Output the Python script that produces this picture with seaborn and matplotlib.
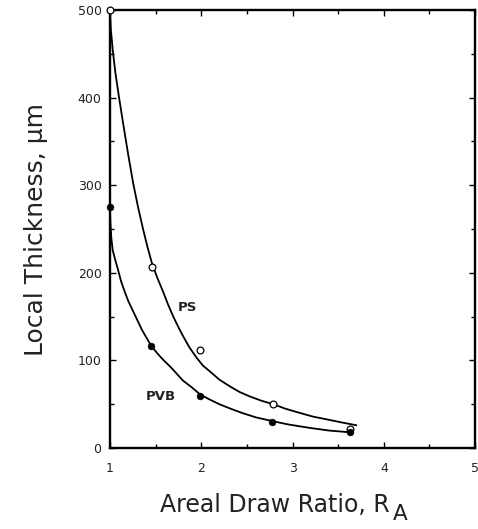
import matplotlib
matplotlib.use("Agg")
import matplotlib.pyplot as plt
import seaborn as sns
import pandas as pd
from matplotlib.ticker import MultipleLocator

ps_x = [1.0, 1.46, 1.99, 2.79, 3.63]
ps_y = [500, 207, 112, 50, 22]
pvb_x = [1.0, 1.45, 1.99, 2.77, 3.63]
pvb_y = [275, 117, 60, 30, 18]

# fitted curves
ps_curve_x = [1.0, 1.01, 1.03, 1.06, 1.1, 1.15, 1.2, 1.255, 1.31, 1.365, 1.41, 1.46, 1.52, 1.584, 1.64, 1.694,
              1.75, 1.80, 1.87, 1.95, 2.02, 2.10, 2.2, 2.32, 2.42, 2.53, 2.66, 2.79, 2.92, 3.05, 3.22, 3.41, 3.55, 3.70]
ps_curve_y = [500, 478, 455, 428, 400, 367, 335, 302, 274, 249, 230, 211, 194, 178, 163, 150,
              138, 128, 115, 103, 94, 87, 78, 70, 64, 59, 54, 50, 45, 41, 36, 32, 29, 26]
pvb_curve_x = [1.0, 1.005, 1.015, 1.03, 1.06, 1.09, 1.12, 1.16, 1.2, 1.25, 1.3, 1.35, 1.4, 1.45, 1.52, 1.59,
               1.66, 1.73, 1.8, 1.9, 1.99, 2.1, 2.2, 2.32, 2.45, 2.6, 2.77, 2.95, 3.19, 3.4, 3.63]
pvb_curve_y = [275, 258, 240, 226, 214, 203, 191, 179, 168, 157, 146, 135, 126, 117, 108, 100,
               93, 85, 77, 69, 61, 55, 50, 45, 40, 35, 31, 27, 23, 20, 18]

sns.set_theme(style="ticks")
plt.rcParams['font.family'] = ['DejaVu Sans']

fig = plt.figure(figsize=(4.78, 5.29), dpi=100)
ax = fig.add_axes([0.230, 0.153, 0.764, 0.828])

ps_curve = pd.DataFrame({'x': ps_curve_x, 'y': ps_curve_y})
pvb_curve = pd.DataFrame({'x': pvb_curve_x, 'y': pvb_curve_y})
sns.lineplot(data=ps_curve, x='x', y='y', sort=False, estimator=None, color='black', lw=1.3, ax=ax)
sns.lineplot(data=pvb_curve, x='x', y='y', sort=False, estimator=None, color='black', lw=1.3, ax=ax)

sns.scatterplot(x=ps_x, y=ps_y, marker='o', s=24, facecolor='white', edgecolor='black', linewidth=0.9,
                zorder=5, ax=ax, clip_on=False)
sns.scatterplot(x=pvb_x, y=pvb_y, marker='o', s=24, color='black', edgecolor='black', zorder=5, ax=ax,
                clip_on=False)

ax.text(1.847, 161, 'PS', fontsize=9.5, fontweight='bold', ha='center', va='center', color='#222222')
ax.text(1.556, 59, 'PVB', fontsize=9.5, fontweight='bold', ha='center', va='center', color='#222222')

ax.set_xlim(1, 5)
ax.set_ylim(0, 500)
ax.xaxis.set_major_locator(MultipleLocator(1))
ax.xaxis.set_minor_locator(MultipleLocator(0.5))
ax.yaxis.set_major_locator(MultipleLocator(100))
ax.yaxis.set_minor_locator(MultipleLocator(50))
ax.tick_params(which='both', direction='in', top=True, right=True, width=1, color='black')
ax.tick_params(which='major', length=4)
ax.tick_params(which='minor', length=3)
ax.tick_params(axis='x', labelsize=9, pad=10, labelcolor='#222222')
ax.tick_params(axis='y', labelsize=9, pad=6, labelcolor='#222222')

for sp in ax.spines.values():
    sp.set_visible(True)
    sp.set_linewidth(1.7)
    sp.set_color('black')

ax.set_xlabel('Areal Draw Ratio, R', fontsize=17, color='#222222', labelpad=13, x=0.453)
ax.set_ylabel('Local Thickness, µm', fontsize=18, color='#222222', labelpad=21)
# the subscript A is drawn almost full size in the original
ax.annotate('A', xy=(1, 0.12), xycoords=ax.xaxis.label, xytext=(1.5, 0), textcoords='offset points',
            ha='left', va='center', fontsize=15.5, color='#222222')

fig.savefig('out.png', dpi=100, facecolor='white')
